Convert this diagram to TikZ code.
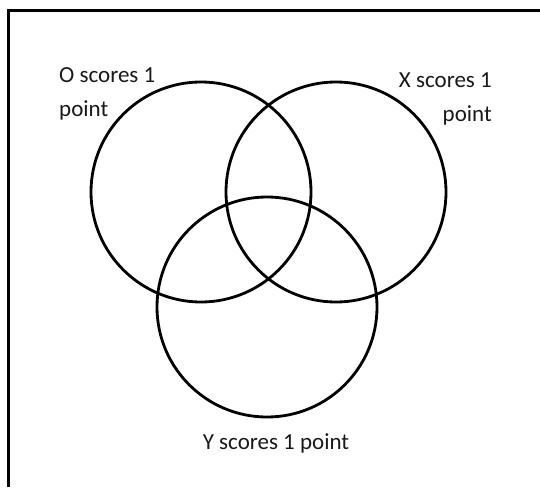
\documentclass[tikz,border=0pt]{standalone}
\usepackage{fontspec}
\setmainfont{Carlito}
\usetikzlibrary{positioning}

\begin{document}
\begin{tikzpicture}[
    x=1pt, y=-1pt,
    venn/.style={draw, black, circle, line width=2.8pt, minimum size=220pt,
                 inner sep=0pt},
    frameline/.style={draw, black, line width=2.8pt},
    lbl/.style={font=\fontsize{23}{34}\selectfont, inner sep=0pt, text=black!90},
  ]
  \useasboundingbox (0,0) rectangle (540,487);

  % ============================== Frame ===================================
  \coordinate (fr-ne) at (540,10.5);
  \coordinate (fr-nw) at (8.5,10.5);
  \coordinate (fr-sw) at (8.5,487);
  \draw[frameline] (fr-ne) -- (fr-nw) -- (fr-sw);

  % ============================== Circles =================================
  \node[venn] (O) at (201,192) {};
  \node[venn] (X) at (336,192) {};
  \node[venn] (Y) at (267,307) {};

  % ============================== Labels ==================================
  \node[lbl, anchor=north west, align=left] (Olbl) at (59,67)
    {O scores 1\\point};
  \node[lbl, anchor=north east, align=right] (Xlbl) at (492,72)
    {X scores 1\\point};
  \node[lbl, anchor=base] (Ylbl) at (276,449) {Y scores 1 point};
\end{tikzpicture}
\end{document}
